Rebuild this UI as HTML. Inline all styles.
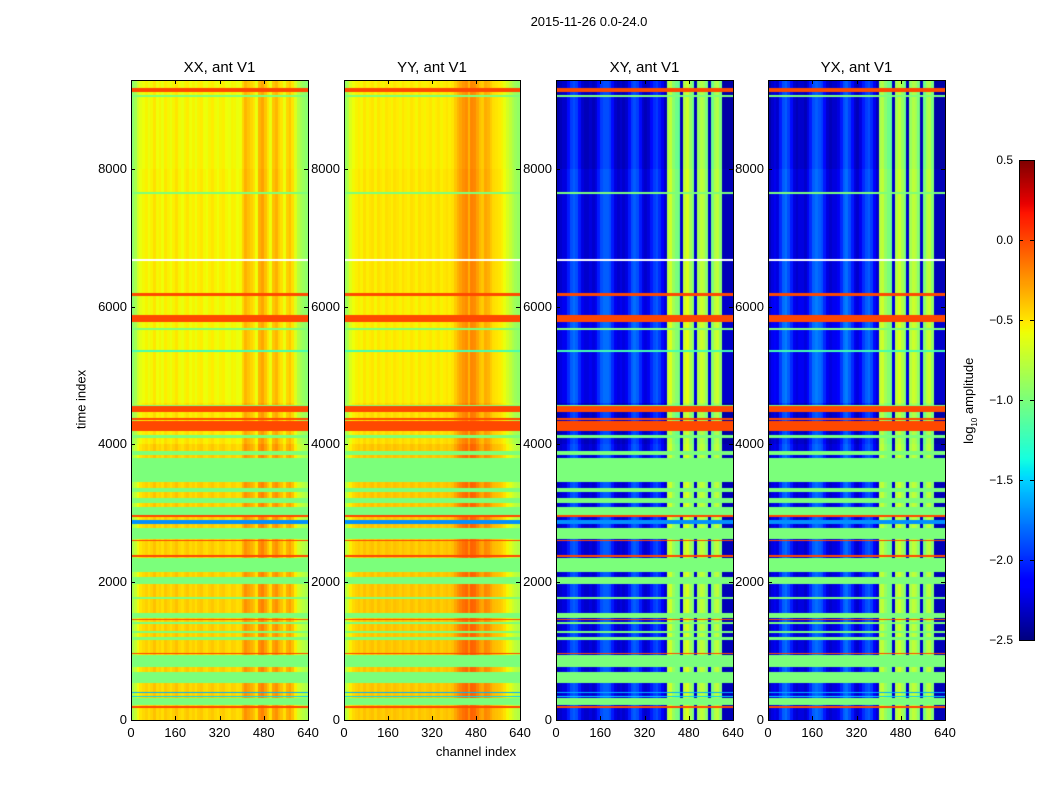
<!DOCTYPE html>
<html><head><meta charset="utf-8">
<style>
html,body{margin:0;padding:0;background:#fff;}
#root{position:relative;width:1050px;height:800px;font-family:"Liberation Sans","DejaVu Sans",sans-serif;color:#000;overflow:hidden;}
.txt{position:absolute;white-space:nowrap;}
canvas{position:absolute;}
.frame{position:absolute;border:1px solid #000;box-sizing:border-box;}
.tick{position:absolute;background:#000;}
</style></head>
<body>
<div id="root">
<div class="txt" style="left:489px;top:14px;width:200px;text-align:center;font-size:13px;">2015-11-26 0.0-24.0</div>
<div class="txt" style="left:31px;top:392px;width:100px;text-align:center;font-size:13px;transform:rotate(-90deg);">time index</div>
<div class="txt" style="left:406px;top:744px;width:140px;text-align:center;font-size:13px;">channel index</div>
<div class="txt" style="left:910px;top:392px;width:120px;text-align:center;font-size:13px;transform:rotate(-90deg);">log<sub style="font-size:8px">10</sub> amplitude</div>
</div>
<script>
// ---- data ----
const panelTitles = ["XX, ant V1","YY, ant V1","XY, ant V1","YX, ant V1"];
const xTicks = [0,160,320,480,640];
const yTicks = [0,2000,4000,6000,8000];
const cbTicks = [0.5,0.0,-0.5,-1.0,-1.5,-2.0,-2.5];
const cbTickLabels = ["0.5","0.0","\u22120.5","\u22121.0","\u22121.5","\u22122.0","\u22122.5"];
const timeMax = 9292;
const chanMax = 640;
// channel profiles, 64 bins of 10 channels (log10 amplitude)
const profileXX = [-0.95,-0.85,-0.7,-0.62,-0.58,-0.55,-0.6,-0.56,-0.5,-0.58,-0.55,-0.6,-0.52,-0.56,-0.6,-0.55,-0.5,-0.57,-0.6,-0.55,-0.52,-0.58,-0.55,-0.6,-0.54,-0.52,-0.58,-0.6,-0.55,-0.52,-0.57,-0.6,-0.55,-0.53,-0.58,-0.6,-0.55,-0.56,-0.6,-0.58,
 -0.45,-0.35,-0.4,-0.45,-0.5,-0.6,-0.35,-0.3,-0.4,-0.5,-0.6,-0.4,-0.35,-0.45,-0.5,-0.6,-0.45,-0.4,-0.5,-0.65,-0.8,-0.85,-0.9,-0.95];
const profileYY = [-0.9,-0.8,-0.65,-0.58,-0.55,-0.52,-0.56,-0.5,-0.55,-0.52,-0.5,-0.56,-0.5,-0.53,-0.55,-0.5,-0.52,-0.55,-0.5,-0.52,-0.55,-0.5,-0.53,-0.55,-0.5,-0.52,-0.56,-0.5,-0.53,-0.55,-0.52,-0.5,-0.55,-0.52,-0.5,-0.55,-0.52,-0.5,-0.53,-0.5,
 -0.42,-0.35,-0.3,-0.25,-0.22,-0.35,-0.2,-0.22,-0.3,-0.38,-0.42,-0.32,-0.35,-0.42,-0.48,-0.5,-0.52,-0.55,-0.6,-0.68,-0.75,-0.82,-0.88,-0.92];
const profileXY = [-2.4,-2.35,-2.3,-2.3,
 -2.1,-1.95,-1.9,-1.95,-2.1,-2.3,
 -2.35,-2.35,-2.3,-2.35,-2.3,
 -2.1,-1.95,-1.9,-1.9,-1.95,-2.1,-2.3,
 -2.35,-2.3,-2.35,-2.3,
 -2.1,-1.95,-1.9,-1.95,-2.1,-2.3,-2.35,
 -2.3,-2.1,-2.0,-1.95,-2.05,-2.2,-2.35,
 -0.85,-0.75,-0.95,-1.05,-1.1,-2.35,-0.8,-0.7,-0.9,-1.05,-2.35,-0.9,-0.8,-0.85,-1.0,-2.35,-1.05,-0.85,-0.8,-1.0,-2.4,-2.4,-2.4,-2.4];
const profileYX = [-2.4,-2.3,-2.25,-2.3,
 -2.05,-1.9,-1.85,-1.95,-2.1,-2.3,
 -2.35,-2.3,-2.3,-2.35,-2.25,
 -2.05,-1.9,-1.85,-1.9,-1.95,-2.1,-2.3,
 -2.35,-2.3,-2.3,-2.25,
 -2.05,-1.9,-1.85,-1.95,-2.1,-2.3,-2.35,
 -2.25,-2.05,-1.95,-1.9,-2.0,-2.2,-2.35,
 -0.85,-0.8,-0.95,-1.05,-1.1,-2.35,-0.85,-0.75,-0.9,-1.05,-2.35,-0.9,-0.8,-0.85,-1.0,-2.35,-1.05,-0.85,-0.8,-1.0,-2.4,-2.4,-2.4,-2.4];
// flagged time bands: start, end, value (null = blank)
const flagStart = [9120,9050,7640,6150,6670,5780,5660,5350,4560,4470,4360,4200,4090,3850,3460,3310,3150,2980,2950,2850,2630,2600,2370,2150,1975,1760,1480,1450,1400,1260,1160,955,770,540,390,340,300,220,180];
const flagEnd   = [9180,9070,7660,6200,6690,5880,5690,5370,4580,4560,4380,4340,4140,3910,3810,3370,3220,3090,2975,2910,2790,2620,2390,2350,2075,1780,1550,1470,1420,1290,1200,975,945,700,405,355,315,320,200];
const flagValue = [0.0,-1.0,-1.0,0.0,null,0.0,-1.0,-1.2,-1.0,0.0,0.0,0.0,-1.0,-1.0,-1.0,-1.0,-1.0,-1.0,0.0,-1.7,-1.0,0.0,0.0,-1.0,-1.0,-1.0,-1.0,0.0,-1.0,-1.0,-1.0,0.0,-1.0,-1.0,-1.6,-1.5,-1.0,-1.0,0.0];
// offsets of unflagged rows by time segment
const segStart = [0,4000,4600,6200,8000];
const segEnd   = [4000,4600,6200,8000,9300];
const segOffsetXX = [0.12,0.05,0.0,0.02,0.0];
const segOffsetXY = [0.05,0.0,0.1,0.05,0.0];

const panels = [
 {left:131,w:177,prof:profileXX,off:segOffsetXX,name:'xx'},
 {left:344,w:176,prof:profileYY,off:segOffsetXX,name:'yy'},
 {left:556,w:177,prof:profileXY,off:segOffsetXY,name:'xy'},
 {left:768,w:177,prof:profileYX,off:segOffsetXY,name:'yx'}];
const plotTop=80,plotBottom=720,plotH=plotBottom-plotTop;
const vmin=-2.5,vmax=0.5;

function interp(x,pts){for(let i=1;i<pts.length;i++){if(x<=pts[i][0]){const a=pts[i-1],b=pts[i];return a[1]+(b[1]-a[1])*(x-a[0])/(b[0]-a[0]);}}return pts[pts.length-1][1];}
function jet(v){let x=(v-vmin)/(vmax-vmin);x=Math.max(0,Math.min(1,x));
 const r=interp(x,[[0,0],[0.35,0],[0.66,1],[0.89,1],[1,0.5]]);
 const g=interp(x,[[0,0],[0.125,0],[0.375,1],[0.64,1],[0.91,0],[1,0]]);
 const b=interp(x,[[0,0.5],[0.11,1],[0.34,1],[0.65,0],[1,0]]);
 return [r*255|0,g*255|0,b*255|0];}
function xScale(p,c){return p.left+c/chanMax*p.w;}
function yScale(t){return plotBottom-t/timeMax*plotH;}

const root=document.getElementById('root');
function addDiv(cls,style,name,text){const d=document.createElement('div');d.className=cls;d.style.cssText=style;
 
 
 if(text!==undefined)d.textContent=text;root.appendChild(d);return d;}

panels.forEach((p,pi)=>{
 const cv=document.createElement('canvas');
 
 
 cv.width=p.w;cv.height=plotH;cv.style.left=p.left+'px';cv.style.top=plotTop+'px';
 root.appendChild(cv);
 const ctx=cv.getContext('2d');const img=ctx.createImageData(p.w,plotH);
 for(let y=0;y<plotH;y++){
  const t=timeMax*(1-(y+0.5)/plotH);
  let flag;let isFlag=false;
  for(let k=0;k<flagStart.length;k++){if(t>=flagStart[k]&&t<flagEnd[k]){flag=flagValue[k];isFlag=true;break;}}
  let off=0;for(let k=0;k<segStart.length;k++){if(t>=segStart[k]&&t<segEnd[k]){off=p.off[k];break;}}
  for(let x=0;x<p.w;x++){
   const c=(x+0.5)/p.w*chanMax;const bin=Math.min(p.prof.length-1,Math.floor(c/chanMax*p.prof.length));
   let col;
   if(isFlag){col=flag===null?[255,255,255]:jet(flag);}
   else col=jet(p.prof[bin]+off);
   const i=(y*p.w+x)*4;img.data[i]=col[0];img.data[i+1]=col[1];img.data[i+2]=col[2];img.data[i+3]=255;
  }
 }
 ctx.putImageData(img,0,0);
 addDiv('frame',`left:${p.left}px;top:${plotTop}px;width:${p.w+1}px;height:${plotH+1}px;`,'axes-frame-'+p.name);
 addDiv('txt',`left:${p.left+p.w/2-80}px;top:59px;width:160px;text-align:center;font-size:15px;`,'panel-title-'+p.name,panelTitles[pi]);
 xTicks.forEach(v=>{const x=xScale(p,v);
  addDiv('tick',`left:${x}px;top:${plotBottom-4}px;width:1px;height:4px;`,'x-tick');
  addDiv('tick',`left:${x}px;top:${plotTop}px;width:1px;height:4px;`,'x-tick-top');
  addDiv('txt',`left:${x-25}px;top:${plotBottom+5}px;width:50px;text-align:center;font-size:13px;`,'x-tick-label',String(v));});
 yTicks.forEach(v=>{const y=yScale(v);
  addDiv('tick',`left:${p.left}px;top:${y}px;width:4px;height:1px;`,'y-tick');
  addDiv('tick',`left:${p.left+p.w-4}px;top:${y}px;width:4px;height:1px;`,'y-tick-right');
  addDiv('txt',`left:${p.left-64}px;top:${y-8}px;width:60px;text-align:right;font-size:13px;`,'y-tick-label',String(v));});
});
// colorbar
const cbL=1019,cbW=15,cbT=160,cbB=640;
const cb=document.createElement('canvas');


cb.width=cbW;cb.height=cbB-cbT;cb.style.left=cbL+'px';cb.style.top=cbT+'px';root.appendChild(cb);
const cctx=cb.getContext('2d');
for(let y=0;y<cbB-cbT;y++){const v=vmax-(y+0.5)/(cbB-cbT)*(vmax-vmin);const c=jet(v);cctx.fillStyle=`rgb(${c[0]},${c[1]},${c[2]})`;cctx.fillRect(0,y,cbW,1);}
addDiv('frame',`left:${cbL}px;top:${cbT}px;width:${cbW+1}px;height:${cbB-cbT+1}px;`,'colorbar-frame');
cbTicks.forEach((v,i)=>{const y=cbT+(vmax-v)/(vmax-vmin)*(cbB-cbT);
 addDiv('tick',`left:${cbL}px;top:${y}px;width:4px;height:1px;`,'colorbar-tick');
 addDiv('tick',`left:${cbL+cbW-4}px;top:${y}px;width:4px;height:1px;`,'colorbar-tick-right');
 addDiv('txt',`left:${cbL-60}px;top:${y-7}px;width:54px;text-align:right;font-size:12px;`,'colorbar-tick-label',cbTickLabels[i]);});
</script>
</body></html>
